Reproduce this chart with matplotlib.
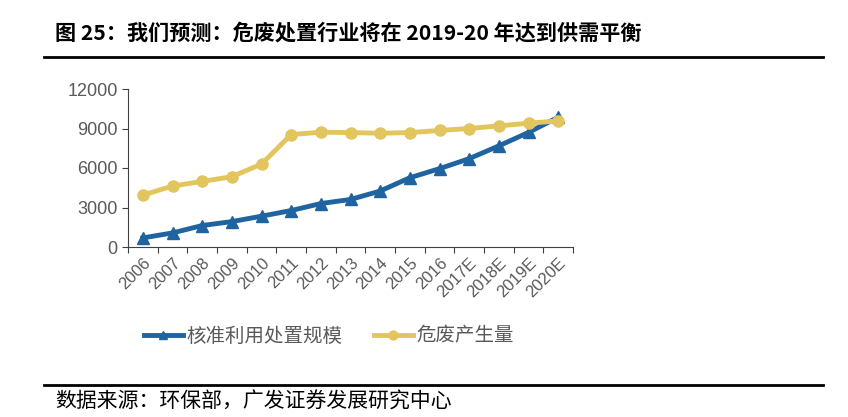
import matplotlib
matplotlib.use("Agg")
import matplotlib.pyplot as plt

plt.rcParams['font.family'] = ['Noto Sans CJK SC', 'DejaVu Sans']

years = ['2006', '2007', '2008', '2009', '2010', '2011', '2012', '2013',
         '2014', '2015', '2016', '2017E', '2018E', '2019E', '2020E']
# 核准利用处置规模
capacity = [690, 1070, 1630, 1930, 2340, 2770, 3300, 3610,
            4250, 5260, 5950, 6710, 7680, 8700, 9850]
# 危废产生量
generated = [3940, 4630, 4980, 5340, 6300, 8540, 8720, 8690,
             8640, 8690, 8850, 9000, 9200, 9400, 9580]

blue = '#1F64A0'
gold = '#E3C55E'
grey = '#595959'

fig = plt.figure(figsize=(8.48, 4.17), dpi=100)
ax = fig.add_axes([128 / 848, 1 - 247 / 417, 445 / 848, 158 / 417])

x = list(range(len(years)))
ax.plot(x, capacity, color=blue, lw=3.5, marker='^', ms=8, label='核准利用处置规模', zorder=3)
ax.plot(x, generated, color=gold, lw=3.5, marker='o', ms=8, label='危废产生量', zorder=3)

ax.set_xlim(-0.5, len(years) - 0.5)
ax.set_ylim(0, 12000)
ax.set_yticks([0, 3000, 6000, 9000, 12000])
ax.set_xticks([i - 0.5 for i in range(len(years) + 1)], minor=False)
ax.set_xticklabels([])
ax.set_xticks(x, minor=True)
ax.set_xticklabels(years, minor=True, rotation=45, ha='right', va='top',
                   rotation_mode='anchor', fontsize=12, color=grey, family='Liberation Sans')
ax.tick_params(axis='x', which='minor', length=0, pad=6)
ax.tick_params(axis='x', which='major', length=4, direction='out', color='#404040')
ax.tick_params(axis='y', length=4, direction='out', color='#404040', labelsize=13, labelcolor=grey)
for lab in ax.get_yticklabels():
    lab.set_family('Liberation Sans')

for s in ['top', 'right']:
    ax.spines[s].set_visible(False)
ax.spines['left'].set_color('#404040')
ax.spines['bottom'].set_color('#404040')

leg = fig.legend(loc='center', bbox_to_anchor=(329 / 848, 1 - 336 / 417), ncol=2,
                 frameon=False, fontsize=14, handlelength=2.0, columnspacing=1.6,
                 handletextpad=0.2, markerscale=0.8)
for t in leg.get_texts():
    t.set_color(grey)

fig.text(55 / 848, 1 - 33 / 417, '图 25：我们预测：危废处置行业将在 2019-20 年达到供需平衡',
         fontsize=15.2, fontweight='bold', va='center', ha='left')
fig.add_artist(plt.Line2D([44 / 848, 823 / 848], [1 - 57 / 417] * 2, color='black', lw=2))
fig.add_artist(plt.Line2D([44 / 848, 823 / 848], [1 - 385 / 417] * 2, color='black', lw=2))
fig.text(55 / 848, 1 - 402 / 417, '数据来源：环保部，广发证券发展研究中心',
         fontsize=15, va='center', ha='left')

fig.savefig('out.png', dpi=100)
